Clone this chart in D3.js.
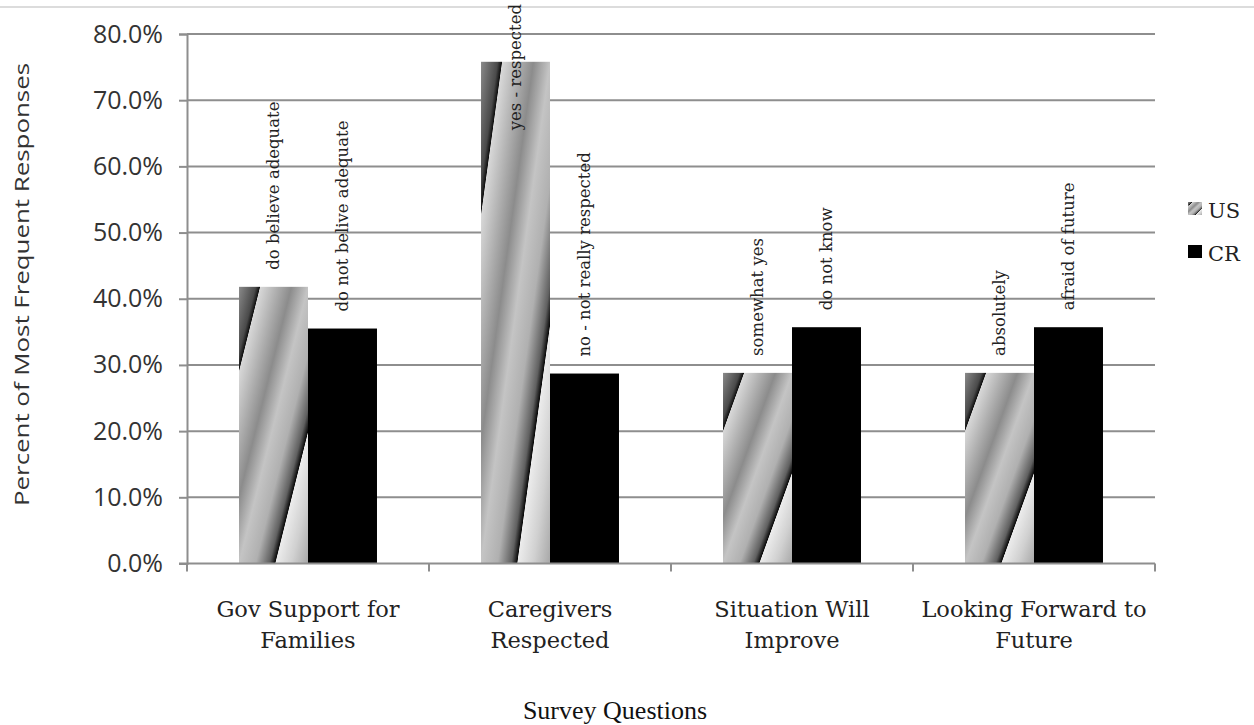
<!DOCTYPE html>
<html>
<head>
<meta charset="utf-8">
<script src="https://cdn.jsdelivr.net/npm/d3@7"></script>
<style>
  html, body { margin: 0; padding: 0; background: #ffffff; }
  svg { display: block; }
</style>
</head>
<body>
<svg id="chart" width="1254" height="725"></svg>
<script>
// Survey questions and the most frequent answer for each group
const categories = [
  ["Gov Support for", "Families"],
  ["Caregivers", "Respected"],
  ["Situation Will", "Improve"],
  ["Looking Forward to", "Future"]
];
const seriesNames = ["US", "CR"];
const usValues = [41.8, 75.8, 28.8, 28.8];
const crValues = [35.5, 28.7, 35.7, 35.7];
const usLabels = ["do believe adequate", "yes - respected", "somewhat yes", "absolutely"];
const crLabels = ["do not belive adequate", "no - not really respected", "do not know", "afraid of future"];
const yTicks = [0, 10, 20, 30, 40, 50, 60, 70, 80];

const svg = d3.select("#chart");
const plotLeft = 187, plotRight = 1155, plotTop = 34, plotBottom = 563.5;

// faint rule across the top of the frame
svg.append("line")
  .attr("x1", 0).attr("x2", 1254).attr("y1", 7).attr("y2", 7)
  .attr("stroke", "#dcdcdc").attr("stroke-width", 2);

// diagonal gradient used for the US bars (stretches with each bar's box)
const defs = svg.append("defs");
const grad = defs.append("linearGradient")
  .attr("id", "usFill")
  .attr("gradientUnits", "objectBoundingBox")
  .attr("x1", 0).attr("y1", 0).attr("x2", 1).attr("y2", 1);
[
  [0.00, "#8a8a8a"], [0.12, "#4a4a4a"], [0.15, "#101010"], [0.155, "#d8d8d8"],
  [0.25, "#b8b8b8"], [0.38, "#8c8c8c"], [0.50, "#c4c4c4"], [0.62, "#b0b0b0"],
  [0.72, "#606060"], [0.76, "#0a0a0a"], [0.765, "#ececec"], [0.88, "#d0d0d0"],
  [1.00, "#a8a8a8"]
].forEach(([o, c]) => grad.append("stop").attr("offset", o).attr("stop-color", c));

const fills = { US: "url(#usFill)", CR: "#000000" };

const catKeys = categories.map(c => c.join(" "));
const x0 = d3.scaleBand().domain(catKeys).range([plotLeft, plotRight]).paddingInner(0).paddingOuter(0);
const x1 = d3.scaleBand().domain(seriesNames).range([0, x0.bandwidth()])
  .paddingInner(0).paddingOuter(0.754);
const y = d3.scaleLinear().domain([0, 80]).range([plotBottom, plotTop]);

// horizontal gridlines
svg.append("g")
  .selectAll("line")
  .data(yTicks.filter(t => t > 0))
  .join("line")
  .attr("x1", plotLeft).attr("x2", plotRight)
  .attr("y1", d => y(d)).attr("y2", d => y(d))
  .attr("stroke", "#8e8e8e").attr("stroke-width", 2);

// y axis
const yAxis = d3.axisLeft(y).tickValues(yTicks).tickSize(8).tickPadding(16)
  .tickFormat(d => d.toFixed(1) + "%");
const gy = svg.append("g").attr("transform", `translate(${plotLeft},0)`).call(yAxis);
gy.select(".domain").attr("stroke", "#8e8e8e").attr("stroke-width", 2);
gy.selectAll(".tick line").attr("stroke", "#8e8e8e").attr("stroke-width", 2);
gy.selectAll(".tick text")
  .attr("font-family", "'Open Sans', sans-serif")
  .attr("font-size", 25).attr("fill", "#333333");

// bars
const rows = catKeys.map((k, i) => ({
  key: k,
  values: [
    { s: "US", v: usValues[i], label: usLabels[i] },
    { s: "CR", v: crValues[i], label: crLabels[i] }
  ]
}));

const groups = svg.append("g").selectAll("g")
  .data(rows)
  .join("g")
  .attr("transform", d => `translate(${x0(d.key)},0)`);

groups.selectAll("rect")
  .data(d => d.values)
  .join("rect")
  .attr("x", d => x1(d.s))
  .attr("width", x1.bandwidth())
  .attr("y", d => y(d.v))
  .attr("height", d => y(0) - y(d.v))
  .attr("fill", d => fills[d.s]);

// x axis with category boundary ticks
const gx = svg.append("g");
gx.append("line")
  .attr("x1", plotLeft - 8).attr("x2", plotRight)
  .attr("y1", plotBottom).attr("y2", plotBottom)
  .attr("stroke", "#8e8e8e").attr("stroke-width", 2);
const bounds = catKeys.map(k => x0(k)).concat([plotRight]);
gx.selectAll("line.tick")
  .data(bounds)
  .join("line")
  .attr("class", "tick")
  .attr("x1", d => d).attr("x2", d => d)
  .attr("y1", plotBottom).attr("y2", plotBottom + 8)
  .attr("stroke", "#8e8e8e").attr("stroke-width", 2);

// category labels (two lines each)
const catText = svg.append("g").selectAll("text")
  .data(categories)
  .join("text")
  .attr("x", (d, i) => x0(catKeys[i]) + x0.bandwidth() / 2)
  .attr("y", 617)
  .attr("text-anchor", "middle")
  .attr("font-family", "'DejaVu Serif', serif")
  .attr("font-size", 22.5)
  .attr("fill", "#222222");
catText.selectAll("tspan")
  .data(d => d)
  .join("tspan")
  .attr("x", function () { return this.parentNode.getAttribute("x"); })
  .attr("dy", (d, i) => i === 0 ? 0 : 31)
  .text(d => d);

// answer labels written upward above each bar
groups.selectAll("text.answer")
  .data(d => d.values)
  .join("text")
  .attr("class", "answer")
  .attr("font-family", "'DejaVu Serif', serif")
  .attr("font-size", 16.5)
  .attr("fill", "#222222")
  .attr("dominant-baseline", "central")
  .text(d => d.label)
  .each(function (d) {
    const len = this.getComputedTextLength();
    const cx = x1(d.s) + x1.bandwidth() / 2;
    let start = y(d.v) - 17;
    if (start - len < 4) start = len + 4;
    d3.select(this).attr("transform", `translate(${cx},${start}) rotate(-90)`);
  });

// y axis title
svg.append("text")
  .attr("transform", `translate(29,${(62 + 507) / 2}) rotate(-90)`)
  .attr("text-anchor", "middle")
  .attr("font-family", "'Open Sans', sans-serif")
  .attr("font-size", 20)
  .attr("fill", "#333333")
  .attr("textLength", 443)
  .attr("lengthAdjust", "spacingAndGlyphs")
  .text("Percent of Most Frequent Responses");

// legend
const legend = svg.append("g").selectAll("g")
  .data(seriesNames)
  .join("g")
  .attr("transform", (d, i) => `translate(1188,${202 + i * 43})`);
legend.append("rect")
  .attr("width", 14).attr("height", 13)
  .attr("fill", d => fills[d]);
legend.append("text")
  .attr("x", 20).attr("y", 16)
  .attr("font-family", "'DejaVu Serif', serif")
  .attr("font-size", 21)
  .attr("fill", "#222222")
  .text(d => d);

// x axis title
svg.append("text")
  .attr("x", 615).attr("y", 719)
  .attr("text-anchor", "middle")
  .attr("font-family", "'Liberation Serif', 'Times New Roman', serif")
  .attr("font-size", 26)
  .attr("fill", "#111111")
  .text("Survey Questions");
</script>
</body>
</html>
